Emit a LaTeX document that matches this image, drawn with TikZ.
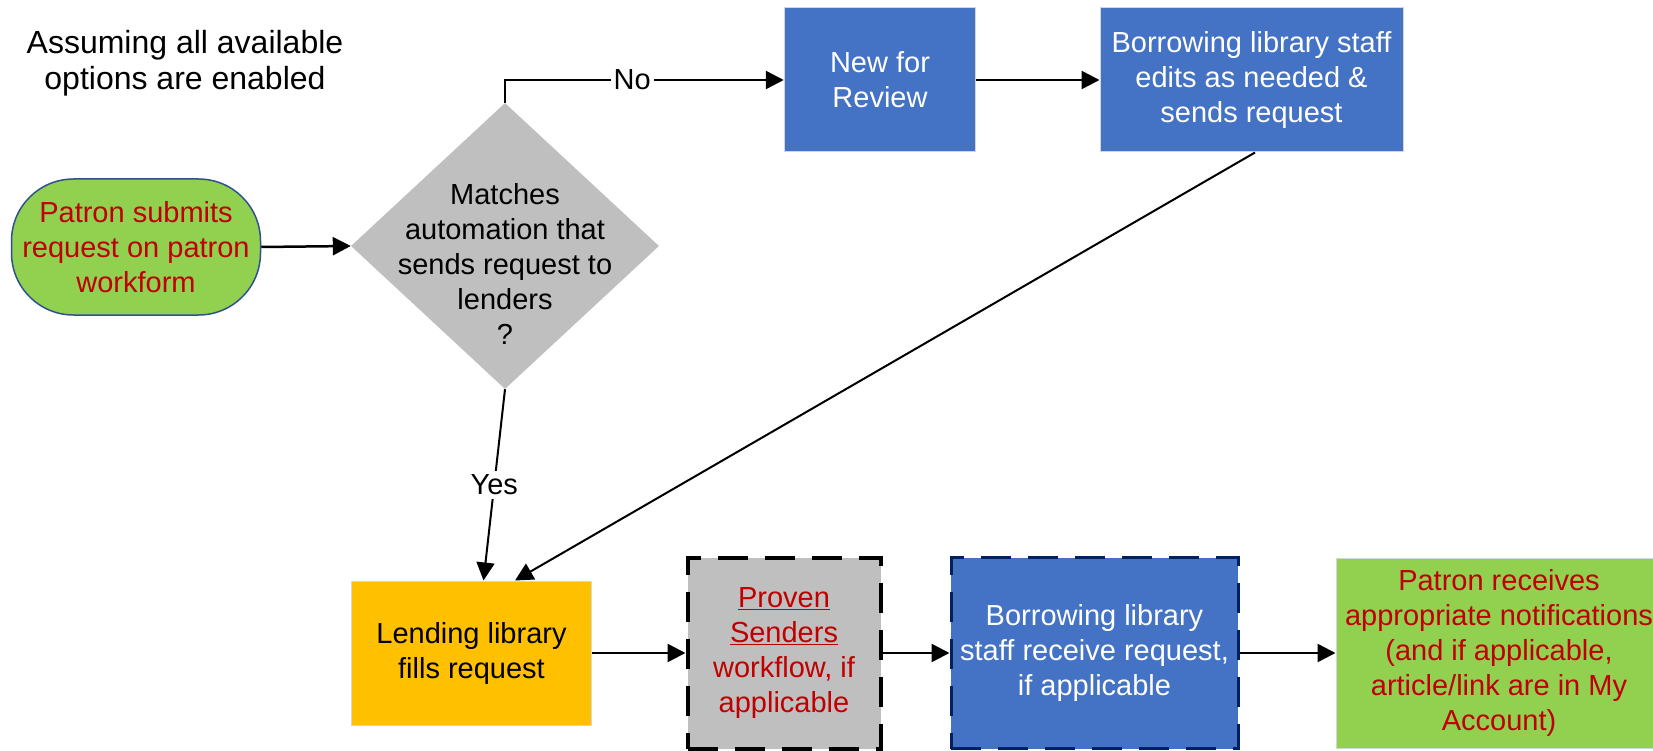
\documentclass[tikz,border=0pt]{standalone}
\usepackage{fontspec}
\setmainfont{Liberation Sans}
\usetikzlibrary{arrows.meta,shapes.geometric}
\definecolor{myblue}{HTML}{4472C4}
\definecolor{navy}{HTML}{002060}
\definecolor{diagray}{HTML}{BFBFBF}
\definecolor{myorange}{HTML}{FFC000}
\definecolor{mygreen}{HTML}{92D050}
\definecolor{myred}{HTML}{C00000}
\definecolor{startline}{HTML}{2F528F}
\definecolor{boxline}{HTML}{D6D6D6}
\begin{document}
\begin{tikzpicture}[x=1pt,y=-1pt,
  every node/.style={font=\fontsize{29}{35}\selectfont, align=center, inner sep=0pt},
  box/.style={rectangle, draw=boxline, line width=1pt},
  dashbox/.style={rectangle, line width=4pt, dash pattern=on 30pt off 17pt},
  arr/.style={draw=black, line width=2.5pt, -{Triangle[length=18pt,width=18pt]}},
  arrthin/.style={draw=black, line width=2pt, -{Triangle[length=18pt,width=18pt]}},
  lbl/.style={fill=white, inner xsep=3pt, inner ysep=4pt},
]
\useasboundingbox (0,0) rectangle (1653,751);

\node[font=\fontsize{32}{36}\selectfont] (title) at (185,63) {Assuming all available\\options are enabled};

\node[rectangle, rounded corners=62pt, fill=mygreen, draw=startline, line width=1.5pt, text=myred,
      minimum width=249pt, minimum height=136pt] (start) at (136,247)
      {Patron submits\\request on patron\\workform};

\node[diamond, fill=diagray, minimum width=308pt, minimum height=286pt] (dec) at (505,246) {};
\node (dectext) at (505,264) {Matches\\automation that\\sends request to\\lenders\\?};

\node[box, fill=myblue, text=white, minimum width=191.5pt, minimum height=144pt] (nfr) at (880,80) {New for\\Review};
\node[box, fill=myblue, text=white, minimum width=303pt, minimum height=144pt] (be) at (1251.5,80) {Borrowing library staff\\edits as needed \&\\sends request};

\node[box, fill=myorange, text=black, minimum width=240pt, minimum height=144pt] (lend) at (471.5,653) {Lending library\\fills request};
\node[dashbox, fill=diagray, draw=black, text=myred, minimum width=193pt, minimum height=191pt] (prov) at (784,653) {\underline{Proven}\\\underline{Senders}\\workflow, if\\applicable};
\node[dashbox, line width=3pt, fill=myblue, draw=navy, text=white, minimum width=287pt, minimum height=191pt] (recv) at (1094.5,653) {Borrowing library\\staff receive request,\\if applicable};
\node[box, fill=mygreen, text=myred, minimum width=326pt, minimum height=190pt] (pat) at (1499,653) {Patron receives\\appropriate notifications\\(and if applicable,\\article/link are in My\\Account)};

\draw[arr] (start.east) -- (dec.west);
\draw[arr] (dec.north) |- node[lbl, pos=0.728] {No} (nfr.west);
\draw[arr] (nfr.east) -- (be.west);
\draw[arrthin] ([xshift=3.5pt]be.south) -- ([xshift=43.5pt]lend.north);
\draw[arrthin] (dec.south) -- node[lbl, pos=0.5] {Yes} ([xshift=12pt]lend.north);
\draw[arr] (lend.east) -- (prov.west);
\draw[arr] (prov.east) -- (recv.west);
\draw[arr] (recv.east) -- (pat.west);
\end{tikzpicture}
\end{document}
